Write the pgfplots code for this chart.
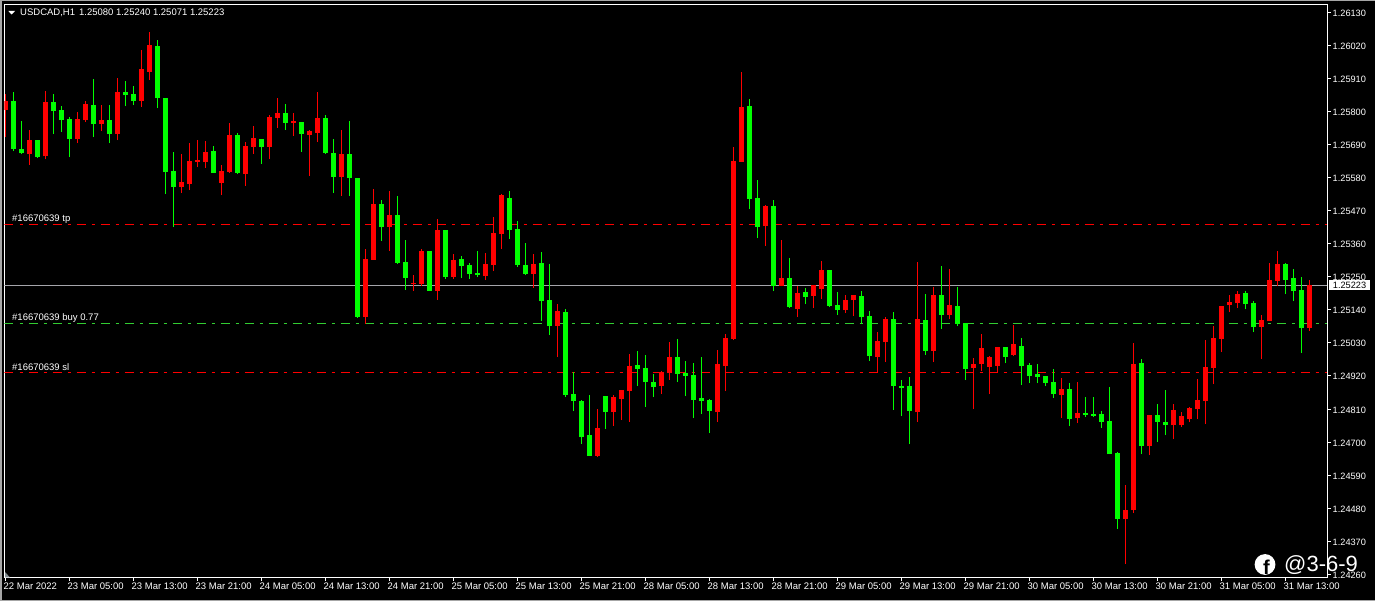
\documentclass[border=0pt]{standalone}
\usepackage{pgfplots}
\usepackage{pgfplotstable}
\usepackage{fontspec}
\setmainfont{Liberation Sans}
\pgfplotsset{compat=1.18}
\definecolor{mtred}{RGB}{255,0,0}
\definecolor{mtgreen}{RGB}{0,255,0}
\definecolor{buygreen}{RGB}{50,205,50}
\definecolor{closegray}{RGB}{165,165,170}
\pgfplotstableread{
i t b h l
0 1.25835 1.25805 1.25858 1.25714
3 1.25705 1.25658 1.25738 1.25622
5 1.25831 1.25651 1.25868 1.25641
9 1.25775 1.25708 1.25798 1.25695
10 1.25824 1.25771 1.25835 1.25765
12 1.25771 1.25758 1.25821 1.25735
14 1.25864 1.25725 1.25911 1.25705
17 1.25941 1.25835 1.26004 1.25815
18 1.26021 1.25931 1.26064 1.25904
22 1.25565 1.25548 1.25658 1.25528
23 1.25635 1.25558 1.25695 1.25538
24 1.25638 1.25632 1.25705 1.25615
25 1.25665 1.25632 1.25701 1.25612
27 1.25602 1.25562 1.25622 1.25522
28 1.25721 1.25598 1.25761 1.25595
30 1.25686 1.25592 1.25699 1.25553
31 1.25712 1.25682 1.25752 1.25659
33 1.25782 1.25682 1.25789 1.25642
34 1.25795 1.25779 1.25845 1.25746
36 1.25769 1.25762 1.25795 1.25719
38 1.25736 1.25722 1.25739 1.25586
39 1.25779 1.25729 1.25865 1.25699
42 1.25659 1.25583 1.25739 1.25519
45 1.25310 1.25117 1.25343 1.25093
46 1.25493 1.25306 1.25543 1.25306
48 1.25456 1.25416 1.25536 1.25336
51 1.25230 1.25227 1.25256 1.25203
52 1.25336 1.25227 1.25343 1.25220
54 1.25406 1.25203 1.25443 1.25173
56 1.25306 1.25250 1.25326 1.25243
60 1.25292 1.25253 1.25329 1.25239
61 1.25396 1.25289 1.25449 1.25269
62 1.25522 1.25392 1.25525 1.25342
66 1.25292 1.25259 1.25326 1.25213
69 1.25136 1.25086 1.25159 1.24983
74 1.24747 1.24654 1.24810 1.24650
76 1.24850 1.24800 1.24857 1.24754
77 1.24873 1.24843 1.24873 1.24773
78 1.24953 1.24870 1.24993 1.24767
82 1.24933 1.24887 1.24937 1.24860
83 1.24983 1.24930 1.25033 1.24907
89 1.24960 1.24800 1.25006 1.24767
90 1.25046 1.24953 1.25059 1.24870
91 1.25635 1.25043 1.25682 1.25039
92 1.25815 1.25632 1.25931 1.25632
95 1.25485 1.25419 1.25489 1.25352
97 1.25246 1.25219 1.25372 1.25219
99 1.25196 1.25143 1.25219 1.25116
101 1.25222 1.25186 1.25222 1.25146
102 1.25272 1.25209 1.25302 1.25176
105 1.25172 1.25139 1.25189 1.25129
106 1.25189 1.25172 1.25189 1.25119
109 1.25036 1.24983 1.25066 1.24930
110 1.25109 1.25033 1.25116 1.24966
114 1.25109 1.24800 1.25299 1.24767
116 1.25189 1.25003 1.25216 1.24966
118 1.25156 1.25123 1.25276 1.25109
121 1.24960 1.24946 1.24980 1.24810
122 1.25013 1.24960 1.25059 1.24936
123 1.24983 1.24950 1.24986 1.24860
124 1.25016 1.24953 1.25016 1.24930
126 1.25026 1.24990 1.25089 1.24986
132 1.24876 1.24857 1.24913 1.24780
134 1.24797 1.24780 1.24900 1.24763
140 1.24474 1.24444 1.24557 1.24294
141 1.24960 1.24474 1.25030 1.24464
143 1.24790 1.24687 1.24790 1.24657
146 1.24806 1.24756 1.24826 1.24710
147 1.24786 1.24756 1.24800 1.24750
148 1.24813 1.24776 1.24816 1.24766
149 1.24840 1.24810 1.24909 1.24776
150 1.24949 1.24836 1.25039 1.24760
151 1.25046 1.24946 1.25086 1.24893
152 1.25152 1.25043 1.25152 1.24999
153 1.25166 1.25156 1.25189 1.25132
154 1.25192 1.25162 1.25202 1.25146
157 1.25106 1.25083 1.25122 1.24976
158 1.25239 1.25102 1.25295 1.25102
159 1.25292 1.25236 1.25335 1.25219
163 1.25223 1.25080 1.25240 1.25071
}\redcandles
\pgfplotstableread{
i t b h l
1 1.25835 1.25675 1.25864 1.25668
2 1.25675 1.25661 1.25768 1.25658
4 1.25705 1.25648 1.25705 1.25645
6 1.25831 1.25801 1.25858 1.25725
7 1.25805 1.25771 1.25818 1.25731
8 1.25775 1.25708 1.25781 1.25648
11 1.25821 1.25758 1.25908 1.25715
13 1.25771 1.25725 1.25821 1.25695
15 1.25864 1.25854 1.25901 1.25818
16 1.25858 1.25835 1.25884 1.25821
19 1.26017 1.25844 1.26037 1.25811
20 1.25844 1.25598 1.25844 1.25525
21 1.25602 1.25548 1.25665 1.25415
26 1.25668 1.25595 1.25685 1.25595
29 1.25721 1.25595 1.25728 1.25592
32 1.25709 1.25682 1.25709 1.25626
35 1.25795 1.25762 1.25825 1.25739
37 1.25765 1.25726 1.25765 1.25666
40 1.25779 1.25662 1.25789 1.25659
41 1.25662 1.25583 1.25709 1.25529
43 1.25659 1.25579 1.25769 1.25519
44 1.25579 1.25117 1.25579 1.25113
47 1.25493 1.25416 1.25506 1.25370
49 1.25456 1.25296 1.25519 1.25293
50 1.25300 1.25246 1.25373 1.25207
53 1.25336 1.25203 1.25336 1.25203
55 1.25406 1.25250 1.25406 1.25243
57 1.25310 1.25286 1.25320 1.25246
58 1.25289 1.25259 1.25296 1.25243
59 1.25263 1.25256 1.25336 1.25249
63 1.25512 1.25406 1.25535 1.25376
64 1.25409 1.25289 1.25436 1.25283
65 1.25289 1.25259 1.25362 1.25256
67 1.25296 1.25169 1.25332 1.25103
68 1.25173 1.25086 1.25292 1.25056
70 1.25133 1.24857 1.25143 1.24850
71 1.24860 1.24837 1.24933 1.24803
72 1.24837 1.24717 1.24840 1.24694
73 1.24724 1.24654 1.24857 1.24654
75 1.24853 1.24800 1.24853 1.24744
79 1.24956 1.24943 1.25003 1.24887
80 1.24946 1.24900 1.24990 1.24817
81 1.24900 1.24883 1.24927 1.24850
84 1.24983 1.24927 1.25043 1.24900
85 1.24930 1.24920 1.24970 1.24853
86 1.24923 1.24840 1.24963 1.24780
87 1.24847 1.24836 1.24983 1.24793
88 1.24840 1.24803 1.24843 1.24730
93 1.25818 1.25509 1.25841 1.25475
94 1.25512 1.25415 1.25572 1.25379
96 1.25485 1.25219 1.25505 1.25202
98 1.25246 1.25149 1.25312 1.25146
100 1.25199 1.25182 1.25212 1.25159
103 1.25272 1.25153 1.25272 1.25149
104 1.25156 1.25139 1.25199 1.25123
107 1.25186 1.25116 1.25202 1.25093
108 1.25119 1.24986 1.25136 1.24970
111 1.25109 1.24886 1.25133 1.24807
112 1.24886 1.24880 1.24906 1.24787
113 1.24886 1.24803 1.24916 1.24693
115 1.25106 1.25003 1.25192 1.24990
117 1.25189 1.25123 1.25286 1.25076
119 1.25153 1.25093 1.25216 1.25086
120 1.25096 1.24943 1.25096 1.24906
125 1.25016 1.24983 1.25016 1.24963
127 1.25020 1.24953 1.25046 1.24890
128 1.24956 1.24920 1.24963 1.24896
129 1.24926 1.24916 1.24960 1.24896
130 1.24920 1.24896 1.24920 1.24886
131 1.24900 1.24860 1.24943 1.24847
133 1.24876 1.24777 1.24896 1.24753
135 1.24797 1.24790 1.24850 1.24783
136 1.24793 1.24787 1.24850 1.24783
137 1.24793 1.24767 1.24803 1.24747
138 1.24770 1.24660 1.24883 1.24660
139 1.24664 1.24444 1.24667 1.24411
142 1.24963 1.24687 1.24976 1.24660
144 1.24790 1.24767 1.24827 1.24700
145 1.24766 1.24756 1.24873 1.24723
155 1.25196 1.25159 1.25202 1.25142
156 1.25162 1.25083 1.25169 1.25066
160 1.25292 1.25239 1.25295 1.25192
161 1.25246 1.25202 1.25275 1.25169
162 1.25206 1.25079 1.25249 1.24996
}\greencandles
\newcommand{\chartfont}{\fontsize{9.2pt}{11pt}\selectfont}
\newcommand{\notefont}{\fontsize{9.5pt}{11pt}\selectfont}
\begin{document}
\begin{tikzpicture}
\fill[black] (0pt,0pt) rectangle (1375pt,601pt);
\fill[black!35] (0pt,599.5pt) rectangle (1375pt,601pt);
\fill[black!35] (0pt,0pt) rectangle (1.5pt,601pt);
\fill[black!35] (0pt,0pt) rectangle (1375pt,0.8pt);
\path[use as bounding box] (0pt,0pt) rectangle (1375pt,601pt);
\begin{axis}[
  at={(4.5pt,596.5pt)}, anchor=north west,
  scale only axis, width=1322.5pt, height=573pt,
  xmin=-0.125, xmax=165.19, ymin=1.242496, ymax=1.26156,
  axis line style={white,line width=1pt},
  tick align=outside, major tick length=3.5pt,
  tick style={white,line width=1pt},
  xtick pos=bottom, ytick pos=right, yticklabel pos=right,
  xtick={0,8,...,160},
  xticklabels={22 Mar 2022,23 Mar 05:00,23 Mar 13:00,23 Mar 21:00,24 Mar 05:00,24 Mar 13:00,24 Mar 21:00,25 Mar 05:00,25 Mar 13:00,25 Mar 21:00,28 Mar 05:00,28 Mar 13:00,28 Mar 21:00,29 Mar 05:00,29 Mar 13:00,29 Mar 21:00,30 Mar 05:00,30 Mar 13:00,30 Mar 21:00,31 Mar 05:00,31 Mar 13:00},
  ytick={1.24260,1.24370,1.24480,1.24590,1.24700,1.24810,1.24920,1.25030,1.25140,1.25250,1.25360,1.25470,1.25580,1.25690,1.25800,1.25910,1.26020,1.26130},
  yticklabels={1.24260,1.24370,1.24480,1.24590,1.24700,1.24810,1.24920,1.25030,1.25140,1.25250,1.25360,1.25470,1.25580,1.25690,1.25800,1.25910,1.26020,1.26130},
  x tick label style={anchor=north west,inner sep=0pt,xshift=-2pt,yshift=-1.5pt,text=white,font=\notefont},
  y tick label style={anchor=west,inner sep=0pt,xshift=2pt,yshift=-0.8pt,text=white,font=\chartfont},
]
% order lines and current price, behind the candles
\addplot[forget plot,draw=mtred,line width=1pt,dash pattern=on 9pt off 6pt on 3pt off 6pt] coordinates {(-0.125,1.25424) (165.19,1.25424)};
\addplot[forget plot,draw=buygreen,line width=1pt,dash pattern=on 9pt off 6pt on 3pt off 6pt] coordinates {(-0.125,1.25094) (165.19,1.25094)};
\addplot[forget plot,draw=mtred,line width=1pt,dash pattern=on 9pt off 6pt on 3pt off 6pt] coordinates {(-0.125,1.24931) (165.19,1.24931)};
\addplot[forget plot,draw=closegray,line width=1pt] coordinates {(-0.125,1.25222) (165.19,1.25222)};
% wicks
\addplot[forget plot,draw=none,mark=none,error bars/.cd,y dir=plus,y explicit,error mark=none,error bar style={line width=1pt,draw=mtred}]
  table[x=i,y=l,y error plus expr=\thisrow{h}-\thisrow{l}] {\redcandles};
\addplot[forget plot,draw=none,mark=none,error bars/.cd,y dir=plus,y explicit,error mark=none,error bar style={line width=1pt,draw=mtgreen}]
  table[x=i,y=l,y error plus expr=\thisrow{h}-\thisrow{l}] {\greencandles};
% bodies
\addplot[forget plot,draw=none,mark=none,error bars/.cd,y dir=plus,y explicit,error mark=none,error bar style={line width=5pt,draw=mtred}]
  table[x=i,y=b,y error plus expr=\thisrow{t}-\thisrow{b}] {\redcandles};
\addplot[forget plot,draw=none,mark=none,error bars/.cd,y dir=plus,y explicit,error mark=none,error bar style={line width=5pt,draw=mtgreen}]
  table[x=i,y=b,y error plus expr=\thisrow{t}-\thisrow{b}] {\greencandles};
\end{axis}
% corner marks and texts
\fill[white] (8.3pt,590pt) -- (15pt,590pt) -- (11.6pt,586.5pt) -- cycle;
\fill[black!45!cyan!20!gray] (5pt,23.5pt) -- (5pt,29pt) -- (10pt,23.5pt) -- cycle;
\node[anchor=west,inner sep=0pt,text=white,font=\notefont] at (20pt,588pt) {USDCAD,H1\hspace{4pt}1.25080 1.25240 1.25071 1.25223};
\node[anchor=west,inner sep=0pt,text=white,font=\notefont] at (12pt,382pt) {\#16670639 tp};
\node[anchor=west,inner sep=0pt,text=white,font=\notefont] at (12pt,283pt) {\#16670639 buy 0.77};
\node[anchor=west,inner sep=0pt,text=white,font=\notefont] at (12pt,234pt) {\#16670639 sl};
\fill[white] (1329pt,311pt) rectangle (1369.5pt,321pt);
\node[anchor=center,inner sep=0pt,text=black,font=\chartfont] at (1349.5pt,316pt) {1.25223};
% watermark
\fill[white] (1265pt,36.5pt) circle (10.4pt);
\node[anchor=center,inner sep=0pt,text=black,font=\fontsize{20pt}{20pt}\selectfont\bfseries] at (1266.5pt,34pt) {f};
\node[anchor=west,inner sep=0pt,text=white,font=\fontsize{22pt}{22pt}\selectfont] at (1284pt,36pt) {@3-6-9};
\end{tikzpicture}
\end{document}
